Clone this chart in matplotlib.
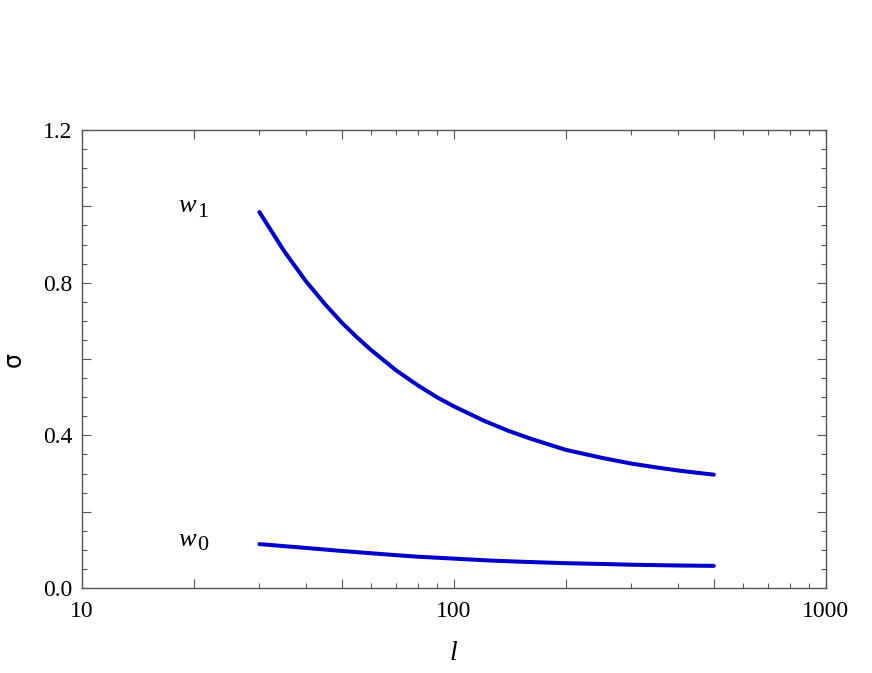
import numpy as np
import matplotlib
matplotlib.use("Agg")
import matplotlib.pyplot as plt
from matplotlib.ticker import FixedLocator, FuncFormatter, MultipleLocator

# curve values
l_w1 = [30, 35, 40, 45, 50, 55, 60, 70, 80, 90, 100, 120, 140, 160, 180, 200,
        250, 300, 350, 400, 450, 500]
w1_vals = [0.985, 0.882, 0.804, 0.744, 0.695, 0.656, 0.623, 0.570, 0.531, 0.500,
           0.476, 0.439, 0.412, 0.392, 0.376, 0.362, 0.341, 0.326, 0.316, 0.308,
           0.302, 0.297]
l_w0 = [30, 40, 50, 60, 70, 80, 100, 125, 150, 200, 250, 300, 400, 500]
w0_vals = [0.115, 0.105, 0.097, 0.091, 0.086, 0.082, 0.077, 0.072, 0.069, 0.065,
           0.063, 0.061, 0.059, 0.058]

curve_labels = ['w', 'w']
curve_subs = ['1', '0']
label_pos = [(19.2, 1.0), (19.2, 0.126)]

x_major = [10, 20, 50, 100, 200, 500, 1000]
x_labeled = [10, 100, 1000]
x_minor = [30, 40, 60, 70, 80, 90, 300, 400, 600, 700, 800, 900]
y_labeled = [0.0, 0.4, 0.8, 1.2]

color = '#0000C8'
axis_color = '#555555'
serif = 'Liberation Serif'

fig = plt.figure(figsize=(8.72, 6.73), dpi=100)
ax = fig.add_axes([0.094, 0.1263, 0.853, 0.6805])

ax.plot(l_w1, w1_vals, color=color, lw=2.9, solid_capstyle='round')
ax.plot(l_w0, w0_vals, color=color, lw=2.9, solid_capstyle='round')

# curve names: italic w with an upright, nearly full-size subscript
for txt, sub, (lx, ly) in zip(curve_labels, curve_subs, label_pos):
    t = ax.text(lx, ly, txt, fontsize=19, ha='center', va='center',
                fontfamily=serif, fontstyle='italic')
    ax.annotate(sub, xy=(1, 0), xycoords=t, xytext=(1, -3),
                textcoords='offset points', fontsize=16, fontfamily=serif,
                ha='left', va='bottom')

ax.set_xscale('log')
ax.set_xlim(10, 1000)
ax.set_ylim(0, 1.2)

ax.xaxis.set_major_locator(FixedLocator(x_major))
ax.xaxis.set_minor_locator(FixedLocator(x_minor))
ax.xaxis.set_major_formatter(FuncFormatter(
    lambda v, p: f"{int(round(v))}" if int(round(v)) in x_labeled else ""))
ax.xaxis.set_minor_formatter(FuncFormatter(lambda v, p: ""))

ax.yaxis.set_major_locator(MultipleLocator(0.2))
ax.yaxis.set_minor_locator(MultipleLocator(0.05))
ax.yaxis.set_major_formatter(FuncFormatter(
    lambda v, p: f"{v:.1f}" if any(abs(v - t) < 1e-6 for t in y_labeled) else ""))

ax.tick_params(which='both', direction='in', top=True, right=True,
               color=axis_color, labelsize=17)
ax.tick_params(axis='x', pad=9)
ax.tick_params(axis='y', pad=7)
ax.tick_params(which='major', length=6.5, width=0.8)
ax.tick_params(which='minor', length=3.5, width=0.8)
for lab in ax.get_xticklabels() + ax.get_yticklabels():
    lab.set_fontfamily(serif)

for sp in ax.spines.values():
    sp.set_color(axis_color)
    sp.set_linewidth(1.0)

ax.set_xlabel('l', fontsize=20, labelpad=14, fontfamily=serif, fontstyle='italic')
ax.set_ylabel('σ', fontsize=17, labelpad=12, fontfamily='DejaVu Sans')

fig.savefig('out.png', dpi=100)
